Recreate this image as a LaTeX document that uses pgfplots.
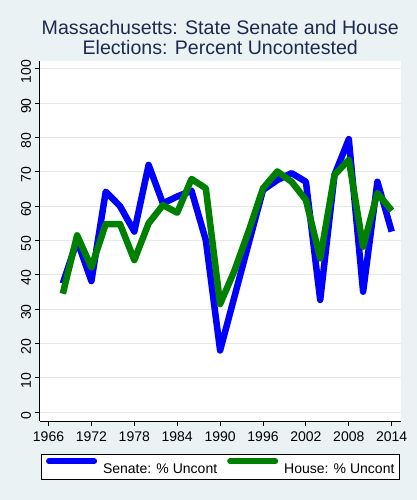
\documentclass[border=0pt]{standalone}
\usepackage{pgfplots}
\pgfplotsset{compat=1.18}
\usepackage{fontspec}
\setmainfont{Liberation Sans}
\definecolor{bgcol}{RGB}{234,242,243}
\definecolor{gridcol}{RGB}{226,234,237}
\definecolor{titlecol}{RGB}{28,42,80}
\definecolor{sblue}{RGB}{0,0,255}
\definecolor{sgreen}{RGB}{0,128,0}
\begin{document}
\begin{tikzpicture}[x=1pt,y=1pt]
\fill[bgcol] (0,0) rectangle (417,500);
\path[use as bounding box] (0,0) rectangle (417,500);
\begin{axis}[
  at={(39.5pt,79pt)}, anchor=south west,
  scale only axis, width=361.5pt, height=360pt,
  xmin=1964.74, xmax=2015.3, ymin=-2.54, ymax=102.25,
  axis background/.style={fill=white},
  axis x line*=bottom, axis y line*=left,
  axis line style={black, line width=0.9pt, -},
  xtick={1966,1972,...,2014},
  ytick={0,10,...,100},
  ymajorgrids, grid style={gridcol, line width=0.9pt},
  tick style={black, line width=0.9pt},
  major tick length=5pt,
  tick align=outside,
  xticklabel style={font=\fontsize{14}{16}\selectfont, /pgf/number format/1000 sep={}, yshift=-2pt},
  yticklabel style={font=\fontsize{14}{16}\selectfont, rotate=90, anchor=south, xshift=-3pt},
  /pgf/number format/assume math mode=true,
  title={Massachusetts: State Senate and House\\Elections: Percent Uncontested},
  title style={font=\fontsize{19.6}{20}\selectfont, color=titlecol, align=center, at={(0.5,1)}, anchor=south, inner sep=0pt, yshift=0pt},
  legend columns=2,
  legend style={at={(0.5,-0.0925)}, anchor=north, draw=black, fill=white, line width=0.9pt,
    font=\fontsize{14}{16}\selectfont, inner xsep=4.5pt, inner ysep=3pt,
    nodes={inner sep=0pt, text height=16pt, text depth=3pt},
    column sep=6pt, /tikz/column 2/.style={column sep=10pt}},
  legend image code/.code={\draw[#1, line width=5.5pt, line cap=round] (2.75pt,6pt) -- (48.25pt,6pt);},
]
\addplot[sblue, line width=6.5pt, line join=round] coordinates {
(1968,37.5) (1970,50) (1972,38.2) (1974,64.2) (1976,60) (1978,52.6) (1980,72) (1982,60.8) (1984,62.8) (1986,64.5) (1988,50.1) (1990,18) (1992,33.6) (1994,49.2) (1996,64.7) (1998,67.6) (2000,69.6) (2002,67.1) (2004,32.7) (2006,69.1) (2008,79.5) (2010,35.1) (2012,67.1) (2014,52.6)
};
\addlegendentry{Senate: \% Uncont}
\addplot[sgreen, line width=6.5pt, line join=round] coordinates {
(1968,34.5) (1970,51.5) (1972,42.2) (1974,54.8) (1976,54.8) (1978,44.3) (1980,55) (1982,60.3) (1984,58.1) (1986,67.9) (1988,65.2) (1990,31.5) (1992,41.2) (1994,52.8) (1996,65.2) (1998,70.1) (2000,67.1) (2002,61.8) (2004,44.8) (2006,69.1) (2008,73.5) (2010,48.2) (2012,63.8) (2014,58.7)
};
\addlegendentry{House: \% Uncont\hspace{-4.5pt}}
\end{axis}
\end{tikzpicture}
\end{document}
